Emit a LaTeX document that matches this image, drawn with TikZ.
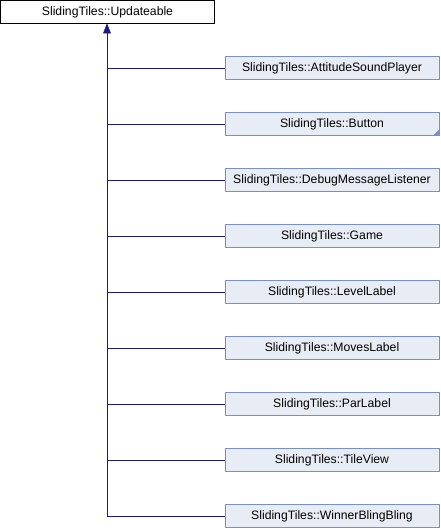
\documentclass[tikz,border=0pt]{standalone}
\usepackage{fontspec}
\setmainfont{Liberation Sans}
\definecolor{boxline}{RGB}{122,143,200}
\definecolor{boxfill}{RGB}{232,236,244}
\definecolor{edgeblue}{RGB}{25,25,140}
\begin{document}
\begin{tikzpicture}[x=1pt,y=-1pt,
  rootbox/.style={draw=black,fill=white,line width=1pt,minimum width=214pt,minimum height=23pt,inner sep=0pt,font=\fontsize{12.2}{14}\selectfont},
  childbox/.style={draw=boxline,fill=boxfill,line width=1pt,minimum width=214pt,minimum height=23pt,inner sep=0pt,font=\fontsize{12.2}{14}\selectfont},
  edge/.style={draw=edgeblue,line width=0.9pt},
  tip/.style={fill=edgeblue,draw=edgeblue,line width=0.5pt}
]
\useasboundingbox (0,0) rectangle (440,528);
\node[rootbox] (root) at (107.5,12) {SlidingTiles::Updateable};
\node[childbox] (c1) at (332,68) {SlidingTiles::AttitudeSoundPlayer};
\node[childbox] (c2) at (332,124) {SlidingTiles::Button};
\node[childbox] (c3) at (332,180) {SlidingTiles::DebugMessageListener};
\node[childbox] (c4) at (332,236) {SlidingTiles::Game};
\node[childbox] (c5) at (332,292) {SlidingTiles::LevelLabel};
\node[childbox] (c6) at (332,348) {SlidingTiles::MovesLabel};
\node[childbox] (c7) at (332,404) {SlidingTiles::ParLabel};
\node[childbox] (c8) at (332,460) {SlidingTiles::TileView};
\node[childbox] (c9) at (332,516) {SlidingTiles::WinnerBlingBling};
% truncation marker on Button
\fill[boxline] ([xshift=-0.5pt,yshift=0.5pt]c2.south east) -- ++(-6,0) -- ++(6,-6) -- cycle;
% connectors
\coordinate (trunkTop) at (107,30);
\foreach \c in {c1,c2,c3,c4,c5,c6,c7,c8,c9}{
  \draw[edge] (\c.west) -- (\c.west -| trunkTop) -- (trunkTop);
}
\filldraw[tip] (root.south -| trunkTop) -- ++(-3.5,9) -- ++(7,0) -- cycle;
\end{tikzpicture}
\end{document}
